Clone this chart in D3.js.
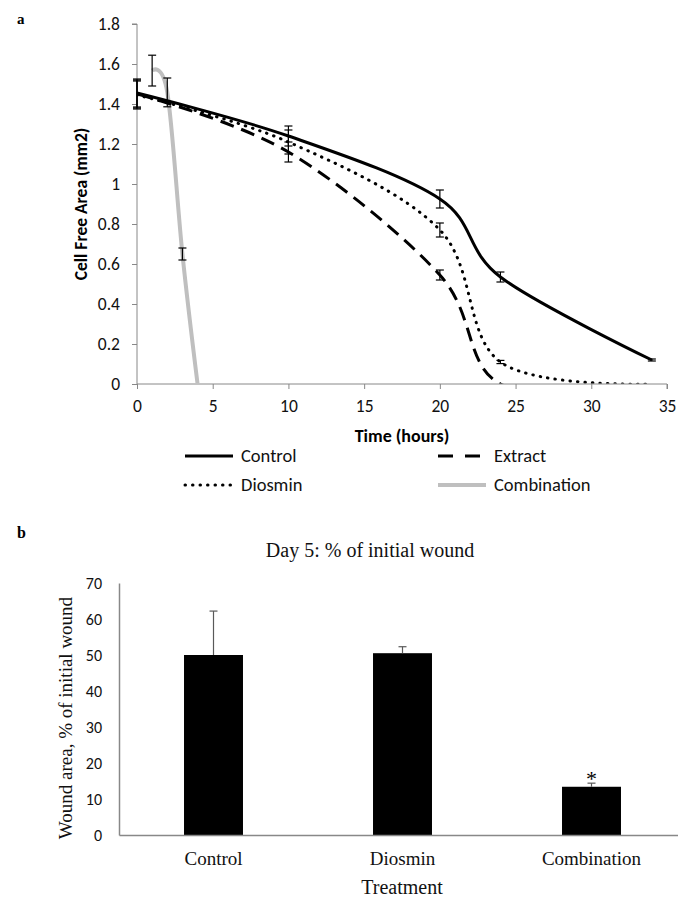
<!DOCTYPE html>
<html>
<head>
<meta charset="utf-8">
<script src="https://cdn.jsdelivr.net/npm/d3@7"></script>
<style>
  body { margin: 0; background: #fff; }
  svg { display: block; }
  .sans { font-family: Carlito, Calibri, Lato, sans-serif; }
  .serif { font-family: "Liberation Serif", "Times New Roman", serif; }
</style>
</head>
<body>
<svg width="678" height="897"></svg>
<script>
// ---- panel a data ----
const seriesNames = ['Control', 'Extract', 'Diosmin', 'Combination'];

const controlTime = [0, 10, 20, 24, 34];
const controlArea = [1.455, 1.24, 0.925, 0.535, 0.12];
const controlErr = [0.07, 0.05, 0.045, 0.025, 0.005];

const extractTime = [0, 10, 20, 24, 34];
const extractArea = [1.45, 1.16, 0.545, 0, 0];
const extractErr = [0.07, 0.05, 0.025, 0, 0];

const diosminTime = [0, 10, 20, 24, 34];
const diosminArea = [1.445, 1.21, 0.77, 0.11, 0];
const diosminErr = [0.07, 0.06, 0.035, 0.008, 0];

const comboTime = [1, 2, 3, 4];
const comboArea = [1.567, 1.458, 0.65, 0];
const comboErr = [0.077, 0.072, 0.03, 0];

const timeTicks = [0, 5, 10, 15, 20, 25, 30, 35];
const areaTicks = [0, 0.2, 0.4, 0.6, 0.8, 1, 1.2, 1.4, 1.6, 1.8];

// ---- panel b data ----
const treatments = ['Control', 'Diosmin', 'Combination'];
const woundPct = [50.0, 50.5, 13.4];
const woundErr = [12.2, 1.8, 1.0];
const woundTicks = [0, 10, 20, 30, 40, 50, 60, 70];

const svg = d3.select('svg');
const axisGrey = '#888888';

// ================= panel a =================
const xA = d3.scaleLinear().domain([0, 35]).range([137, 667]);
const yA = d3.scaleLinear().domain([0, 1.8]).range([384, 24]);

const styles = {
  Control: { stroke: '#000', width: 3, dash: null, cap: 'butt' },
  Extract: { stroke: '#000', width: 3, dash: '14,8', cap: 'butt' },
  Diosmin: { stroke: '#000', width: 3, dash: '0.5,7', cap: 'round' },
  Combination: { stroke: '#bfbfbf', width: 4, dash: null, cap: 'butt' }
};

const zip = (t, v, e) => t.map((d, i) => ({ t: d, v: v[i], e: e[i] }));
const series = [
  { name: 'Control', pts: zip(controlTime, controlArea, controlErr) },
  { name: 'Extract', pts: zip(extractTime, extractArea, extractErr) },
  { name: 'Diosmin', pts: zip(diosminTime, diosminArea, diosminErr) },
  { name: 'Combination', pts: zip(comboTime, comboArea, comboErr) }
];

svg.append('defs').append('clipPath').attr('id', 'plotA')
  .append('rect').attr('x', xA(0)).attr('y', 0)
  .attr('width', xA(35) - xA(0)).attr('height', yA(0) - 0.5);

const gA = svg.append('g');

// axes
gA.append('g')
  .attr('transform', `translate(${xA.range()[0]},0)`)
  .call(d3.axisLeft(yA).tickValues(areaTicks).tickSize(5).tickPadding(12)
    .tickFormat(d => String(+d.toFixed(1))))
  .call(g => {
    g.select('.domain').attr('stroke', axisGrey).attr('d', `M-5,${yA(1.8)}H0V${yA(0)}`);
    g.selectAll('line').attr('stroke', axisGrey);
    g.selectAll('text').attr('class', 'sans').attr('font-size', 17.5).attr('fill', '#111');
  });

gA.append('g')
  .attr('transform', `translate(0,${yA(0)})`)
  .call(d3.axisBottom(xA).tickValues(timeTicks).tickSize(5).tickPadding(11))
  .call(g => {
    g.select('.domain').attr('stroke', axisGrey).attr('d', `M${xA(0)},0H${xA(35)}V5`);
    g.selectAll('line').attr('stroke', axisGrey);
    g.selectAll('text').attr('class', 'sans').attr('font-size', 17.5).attr('fill', '#111');
  });

const line = d3.line()
  .x(d => xA(d.t))
  .y(d => yA(d.v))
  .curve(d3.curveCardinal.tension(0));

// draw combination first so black lines sit above
const drawOrder = ['Combination', 'Control', 'Extract', 'Diosmin'];
drawOrder.forEach(name => {
  const s = series.find(d => d.name === name);
  const st = styles[name];
  gA.append('path')
    .datum(s.pts)
    .attr('d', line)
    .attr('clip-path', 'url(#plotA)')
    .attr('fill', 'none')
    .attr('stroke', st.stroke)
    .attr('stroke-width', st.width)
    .attr('stroke-dasharray', st.dash)
    .attr('stroke-linecap', st.cap);
});

// error bars
series.forEach(s => {
  const eb = gA.append('g').attr('stroke', '#000').attr('stroke-width', 1.2);
  s.pts.filter(d => d.e > 0).forEach(d => {
    const x = xA(d.t);
    eb.append('line').attr('x1', x).attr('x2', x).attr('y1', yA(d.v - d.e)).attr('y2', yA(d.v + d.e));
    [d.v - d.e, d.v + d.e].forEach(v => {
      eb.append('line').attr('x1', x - 4).attr('x2', x + 4).attr('y1', yA(v)).attr('y2', yA(v));
    });
  });
});

// axis titles
gA.append('text')
  .attr('class', 'sans')
  .attr('x', (xA(0) + xA(35)) / 2).attr('y', 442)
  .attr('text-anchor', 'middle').attr('font-weight', 'bold').attr('font-size', 18)
  .text('Time (hours)');

gA.append('text')
  .attr('class', 'sans')
  .attr('transform', `translate(87,${(yA(0) + yA(1.8)) / 2}) rotate(-90)`)
  .attr('text-anchor', 'middle').attr('font-weight', 'bold').attr('font-size', 17.5)
  .text('Cell Free Area (mm2)');

// legend
const legendPos = {
  Control: [185, 456], Extract: [438, 456],
  Diosmin: [185, 485], Combination: [438, 485]
};
seriesNames.forEach(name => {
  const [lx, ly] = legendPos[name];
  const st = styles[name];
  gA.append('line')
    .attr('x1', lx).attr('x2', lx + 48).attr('y1', ly).attr('y2', ly)
    .attr('stroke', st.stroke).attr('stroke-width', st.width)
    .attr('stroke-dasharray', name === 'Extract' ? '15,12' : (name === 'Diosmin' ? '0.5,7' : null))
    .attr('stroke-linecap', st.cap);
  gA.append('text')
    .attr('class', 'sans')
    .attr('x', lx + 56).attr('y', ly + 6)
    .attr('font-size', 18.5).attr('fill', '#111')
    .text(name);
});

svg.append('text').attr('class', 'serif')
  .attr('x', 17).attr('y', 24).attr('font-weight', 'bold').attr('font-size', 15)
  .text('a');

// ================= panel b =================
const xB = d3.scaleBand().domain(treatments).range([119, 686]).paddingInner(0.688).paddingOuter(0.344);
const yB = d3.scaleLinear().domain([0, 70]).range([835, 583]);

const gB = svg.append('g');

gB.append('g')
  .attr('transform', `translate(${xB.range()[0]},0)`)
  .call(d3.axisLeft(yB).tickValues(woundTicks).tickSize(0).tickPadding(17))
  .call(g => {
    g.select('.domain').attr('stroke', axisGrey).attr('stroke-width', 1.5);
    g.selectAll('text').attr('class', 'sans').attr('font-size', 16).attr('fill', '#111');
  });

gB.selectAll('rect.bar')
  .data(treatments)
  .join('rect')
  .attr('class', 'bar')
  .attr('x', d => xB(d))
  .attr('width', xB.bandwidth())
  .attr('y', (d, i) => yB(woundPct[i]))
  .attr('height', (d, i) => yB(0) - yB(woundPct[i]))
  .attr('fill', '#000');

// plus-only error bars
treatments.forEach((d, i) => {
  const cx = xB(d) + xB.bandwidth() / 2;
  const top = yB(woundPct[i] + woundErr[i]);
  gB.append('line').attr('x1', cx).attr('x2', cx)
    .attr('y1', yB(woundPct[i])).attr('y2', top)
    .attr('stroke', '#595959').attr('stroke-width', 1.2);
  gB.append('line').attr('x1', cx - 4).attr('x2', cx + 4)
    .attr('y1', top).attr('y2', top)
    .attr('stroke', '#595959').attr('stroke-width', 1.2);
});

gB.append('g')
  .attr('transform', `translate(0,${yB(0)})`)
  .call(d3.axisBottom(xB).tickSize(0).tickPadding(17))
  .call(g => {
    g.select('.domain').attr('stroke', axisGrey).attr('stroke-width', 1.5);
    g.selectAll('text').attr('class', 'serif').attr('font-size', 19).attr('fill', '#111');
  });

// significance star on Combination
const comboIdx = treatments.indexOf('Combination');
gB.append('text').attr('class', 'serif')
  .attr('x', xB('Combination') + xB.bandwidth() / 2)
  .attr('y', yB(woundPct[comboIdx] + woundErr[comboIdx]) + 3)
  .attr('text-anchor', 'middle').attr('font-size', 22)
  .text('*');

gB.append('text').attr('class', 'serif')
  .attr('x', 370).attr('y', 557)
  .attr('text-anchor', 'middle').attr('font-size', 20).attr('fill', '#111')
  .text('Day 5: % of initial wound');

gB.append('text').attr('class', 'serif')
  .attr('x', 402).attr('y', 894)
  .attr('text-anchor', 'middle').attr('font-size', 20).attr('fill', '#111')
  .text('Treatment');

gB.append('text').attr('class', 'serif')
  .attr('transform', `translate(72,718) rotate(-90)`)
  .attr('text-anchor', 'middle').attr('font-size', 19).attr('fill', '#111')
  .text('Wound area, % of initial wound');

svg.append('text').attr('class', 'serif')
  .attr('x', 17).attr('y', 538).attr('font-weight', 'bold').attr('font-size', 16)
  .text('b');
</script>
</body>
</html>
